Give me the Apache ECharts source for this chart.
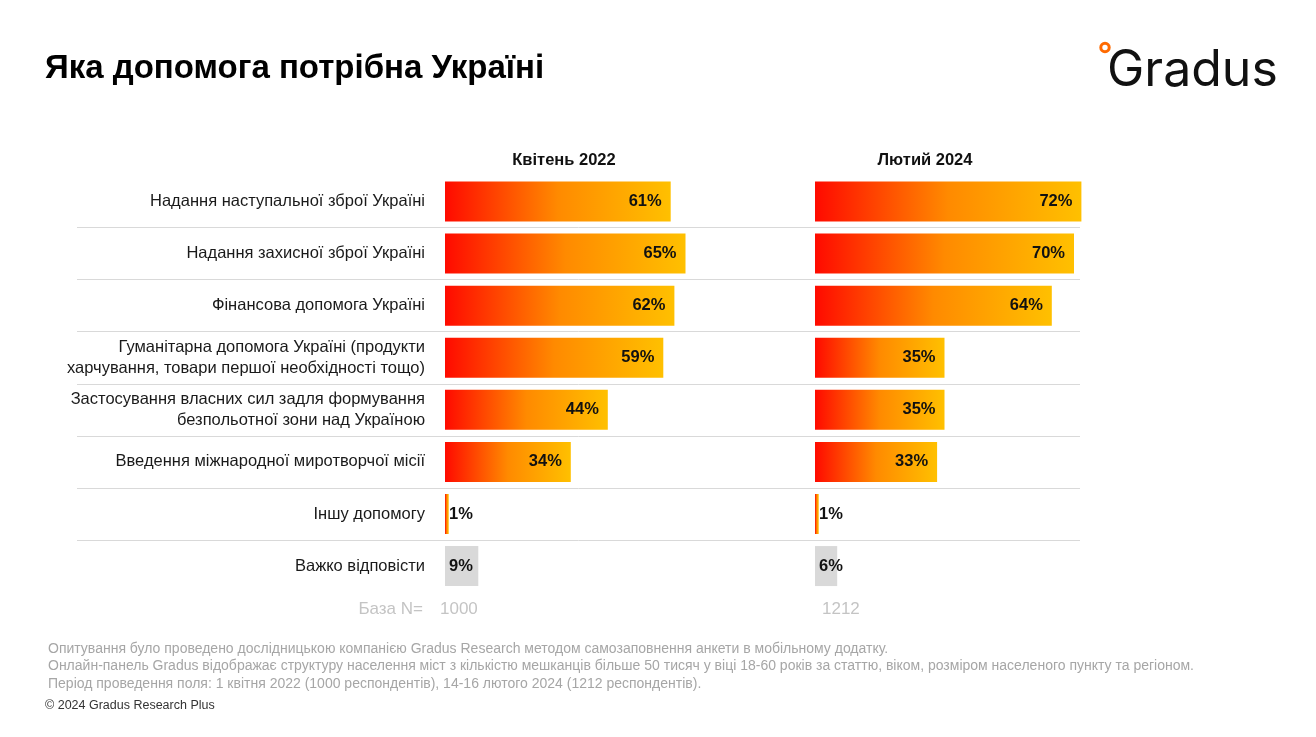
<!DOCTYPE html>
<html><head><meta charset="utf-8">
<script src="https://cdn.jsdelivr.net/npm/echarts@6/dist/echarts.min.js"></script>
<style>html,body{margin:0;padding:0;background:#fff}#c{width:1316px;height:737px}</style>
</head><body><div id="c"></div>
<script>
const categories = [
  'Надання наступальної зброї Україні',
  'Надання захисної зброї Україні',
  'Фінансова допомога Україні',
  'Гуманітарна допомога Україні (продукти\nхарчування, товари першої необхідності тощо)',
  'Застосування власних сил задля формування\nбезпольотної зони над Україною',
  'Введення міжнародної миротворчої місії',
  'Іншу допомогу',
  'Важко відповісти'
];
const values2022 = [61, 65, 62, 59, 44, 34, 1, 9];
const values2024 = [72, 70, 64, 35, 35, 33, 1, 6];
const periods = ['Квітень 2022', 'Лютий 2024'];
const baseLabel = 'База N=';
const baseN = [1000, 1212];
const title = 'Яка допомога потрібна Україні';
const footnotes = [
  'Опитування було проведено дослідницькою компанією Gradus Research методом самозаповнення анкети в мобільному додатку.',
  'Онлайн-панель Gradus відображає структуру населення міст з кількістю мешканців більше 50 тисяч у віці 18-60 років за статтю, віком, розміром населеного пункту та регіоном.',
  'Період проведення поля: 1 квітня 2022 (1000 респондентів), 14-16 лютого 2024 (1212 респондентів).'
];
const copyright = '© 2024 Gradus Research Plus';

const FONT = '"Liberation Sans", Arial, sans-serif';
const chart = echarts.init(document.getElementById('c'), null, {renderer: 'canvas'});

function grad() {
  return new echarts.graphic.LinearGradient(0, 0, 1, 0, [
    {offset: 0, color: '#ff0a00'},
    {offset: 0.5, color: '#ff8a00'},
    {offset: 1, color: '#ffc000'}
  ]);
}
function build(vals) {
  return vals.map((v, i) => ({
    value: v,
    itemStyle: {color: i === categories.length - 1 ? '#d9d9d9' : grad()},
    label: v < 10 ? {position: 'insideLeft', distance: 4} : {position: 'insideRight', distance: 9}
  }));
}

const TOP = 175.5, H = 416.6;
const gridLeftX = [445, 815];

const labelStyle = {show: true, formatter: '{c}%', color: '#111', fontSize: 16.5, fontWeight: 'bold', fontFamily: FONT};

const graphics = [
  {type: 'text', x: 45, y: 69, style: {text: title, fontSize: 33, fontWeight: 'bold', fontFamily: FONT, fill: '#000', verticalAlign: 'middle'}},
  {type: 'text', x: 564, y: 160, style: {text: periods[0], fontSize: 16.5, fontWeight: 'bold', fontFamily: FONT, fill: '#111', align: 'center', verticalAlign: 'middle'}},
  {type: 'text', x: 925, y: 160, style: {text: periods[1], fontSize: 16.5, fontWeight: 'bold', fontFamily: FONT, fill: '#111', align: 'center', verticalAlign: 'middle'}},
  {type: 'text', x: 423, y: 609, style: {text: baseLabel, fontSize: 17, fontFamily: FONT, fill: '#c4c4c4', align: 'right', verticalAlign: 'middle'}},
  {type: 'text', x: 440, y: 609, style: {text: String(baseN[0]), fontSize: 17, fontFamily: FONT, fill: '#c4c4c4', verticalAlign: 'middle'}},
  {type: 'text', x: 822, y: 609, style: {text: String(baseN[1]), fontSize: 17, fontFamily: FONT, fill: '#c4c4c4', verticalAlign: 'middle'}},
  {type: 'text', x: 45, y: 706, style: {text: copyright, fontSize: 12.5, fontFamily: FONT, fill: '#333', verticalAlign: 'middle'}},
  {type: 'text', x: 1107, y: 71, style: {text: 'Gradus', fontSize: 50, fontWeight: 400, fontFamily: 'Inter, sans-serif', fill: '#111', verticalAlign: 'middle'}},
  {type: 'circle', shape: {cx: 1105, cy: 47.5, r: 4.2}, style: {fill: 'none', stroke: '#ff6a00', lineWidth: 3}}
];
footnotes.forEach((t, i) => graphics.push({type: 'text', x: 48, y: 649 + i * 17.5, style: {text: t, fontSize: 14, fontFamily: FONT, fill: '#a6a6a6', verticalAlign: 'middle'}}));

const option = {
  backgroundColor: '#fff',
  animation: false,
  grid: [
    {left: gridLeftX[0], width: 370, top: TOP, height: H},
    {left: gridLeftX[1], width: 370, top: TOP, height: H},
    {left: 77, width: 1003, top: TOP, height: H}
  ],
  xAxis: [
    {gridIndex: 0, type: 'value', min: 0, max: 100, show: false},
    {gridIndex: 1, type: 'value', min: 0, max: 100, show: false},
    {gridIndex: 2, type: 'value', min: 0, max: 1, show: false}
  ],
  yAxis: [
    {gridIndex: 0, type: 'category', data: categories, inverse: true,
     axisLine: {show: false}, axisTick: {show: false}, splitLine: {show: false},
     axisLabel: {margin: 20, fontSize: 16.5, color: '#1a1a1a', fontFamily: FONT, lineHeight: 21, align: 'right'}},
    {gridIndex: 1, type: 'category', data: categories, inverse: true,
     axisLine: {show: false}, axisTick: {show: false}, splitLine: {show: false}, axisLabel: {show: false}},
    {gridIndex: 2, type: 'value', min: 0, max: categories.length, interval: 1, inverse: true,
     axisLine: {show: false}, axisTick: {show: false}, axisLabel: {show: false},
     splitLine: {show: true, showMinLine: false, showMaxLine: false, lineStyle: {color: '#d9d9d9', width: 1}}}
  ],
  series: [
    {type: 'bar', xAxisIndex: 0, yAxisIndex: 0, barWidth: 40, data: build(values2022), label: labelStyle},
    {type: 'bar', xAxisIndex: 1, yAxisIndex: 1, barWidth: 40, data: build(values2024), label: labelStyle}
  ],
  graphic: graphics
};
chart.setOption(option);
</script></body></html>
